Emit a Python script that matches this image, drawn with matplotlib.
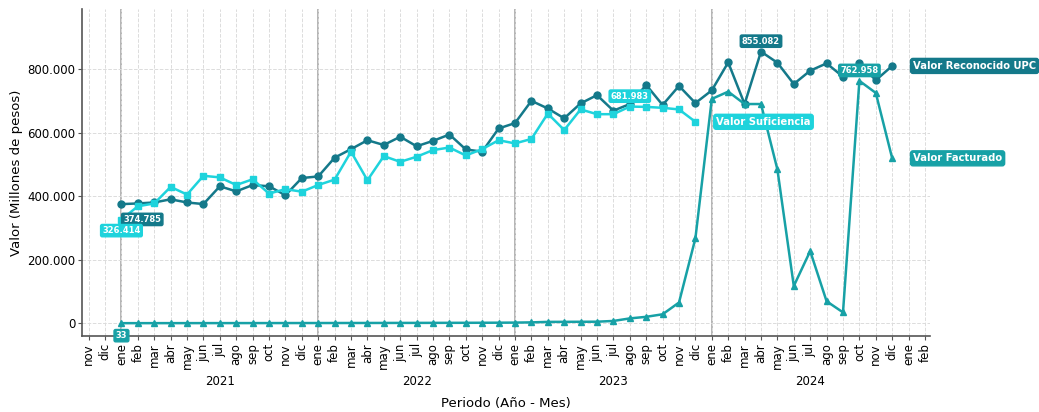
import numpy as np
import matplotlib
matplotlib.use("Agg")
import matplotlib.pyplot as plt
import matplotlib.transforms as mtransforms

# --- data (millones de pesos), ene 2021 .. dic 2024 ---
years = [2021, 2022, 2023, 2024]
month_names = ['ene', 'feb', 'mar', 'abr', 'may', 'jun',
               'jul', 'ago', 'sep', 'oct', 'nov', 'dic']

reconocido = [374785, 377000, 380000, 390000, 380000, 375000, 431000, 415000, 435000, 431000, 403000, 457000,
              462000, 521000, 548000, 576000, 561000, 587000, 557000, 574000, 594000, 547000, 540000, 613000,
              630000, 700000, 676000, 645000, 692000, 718000, 669000, 690000, 750000, 687000, 747000, 693000,
              733000, 821000, 690000, 855082, 820000, 753000, 795000, 818000, 776000, 818000, 765000, 810000]

suficiencia = [326414, 368000, 377000, 429000, 405000, 464000, 459000, 435000, 453000, 408000, 422000, 414000,
               435000, 452000, 540000, 450000, 526000, 508000, 524000, 545000, 553000, 528000, 548000, 576000,
               566000, 580000, 660000, 608000, 673000, 658000, 658000, 681983, 681000, 678000, 673000, 634000,
               None, None, None, None, None, None, None, None, None, None, None, None]

facturado = [33, 60, 90, 120, 150, 180, 210, 250, 280, 320, 360, 400,
             450, 500, 560, 620, 700, 780, 860, 950, 1050, 1150, 1300, 1500,
             1800, 2500, 4000, 4200, 4400, 4600, 7000, 15000, 20000, 28000, 65000, 267000,
             706000, 729000, 690000, 690000, 484000, 117000, 227000, 69000, 34000, 762958, 725000, 519000]

series_names = ['Valor Reconocido UPC', 'Valor Suficiencia', 'Valor Facturado']
colors = ['#14798a', '#1ed3dc', '#17a1a6']
markers = ['o', 's', '^']

# --- helpers ---
def fmt_miles(v):
    return f"{v:,.0f}".replace(',', '.')

x = np.arange(len(reconocido))
data = [np.array(reconocido, dtype=float),
        np.array([np.nan if v is None else v for v in suficiencia], dtype=float),
        np.array(facturado, dtype=float)]

fig = plt.figure(figsize=(10.39, 4.12), dpi=100)
ax = fig.add_axes([0.079, 0.184, 0.816, 0.794])

for y, c, m in zip(data, colors, markers):
    ax.plot(x, y, color=c, marker=m, markersize=5, linewidth=1.8, zorder=3)

# year separators
for k in range(len(years)):
    ax.axvline(12 * k, color='#b4b4b4', linewidth=1.4, zorder=1)

# ticks: nov 2020 .. feb 2025
tick_pos = np.arange(-2, 50)
tick_lab = [month_names[p % 12] for p in tick_pos]
ax.set_xticks(tick_pos)
ax.set_xticklabels(tick_lab, rotation=90, fontsize=8.5)
ax.set_xlim(-2.4, 49.3)

yticks = [0, 200000, 400000, 600000, 800000]
ax.set_ylim(-41000, 989000)
ax.set_yticks(yticks)
ax.set_yticklabels([fmt_miles(v) for v in yticks], fontsize=8.5)

ax.grid(True, linestyle='--', color='#dcdcdc', linewidth=0.7, zorder=0)
ax.spines['top'].set_visible(False)
ax.spines['right'].set_visible(False)
for s in ['left', 'bottom']:
    ax.spines[s].set_color('#555555')
    ax.spines[s].set_linewidth(1.2)
ax.tick_params(axis='both', length=3, color='#555555', pad=2)

# year labels
trans = mtransforms.blended_transform_factory(ax.transData, ax.transAxes)
for k, yr in enumerate(years):
    ax.text(12 * k + 6, -0.14, str(yr), transform=trans, ha='center', va='center', fontsize=8.5)

ax.text(0.5, -0.205, 'Periodo (Año - Mes)', transform=ax.transAxes, ha='center', va='center', fontsize=9.5)
ax.set_ylabel('Valor (Millones de pesos)', fontsize=9.5, labelpad=3)

# value labels: first and max of each series
first_offsets = [(15, -11), (0, -8), (0, -9)]
for y, c, off in zip(data, colors, first_offsets):
    ax.annotate(fmt_miles(y[0]), (x[0], y[0]), xytext=off, textcoords='offset points',
                ha='center', va='center', fontsize=6, fontweight='bold', color='white', zorder=5,
                bbox=dict(boxstyle='round,pad=0.2', fc=c, ec=c))
    i = int(np.nanargmax(y))
    ax.annotate(fmt_miles(y[i]), (x[i], y[i]), xytext=(0, 7.5), textcoords='offset points',
                ha='center', va='center', fontsize=6, fontweight='bold', color='white', zorder=5,
                bbox=dict(boxstyle='round,pad=0.2', fc=c, ec=c))

# series name labels at last point
for y, c, name in zip(data, colors, series_names):
    i = int(np.where(~np.isnan(y))[0][-1])
    ax.annotate(name, (x[i], y[i]), xytext=(15, 0), textcoords='offset points',
                ha='left', va='center', fontsize=7.2, fontweight='bold', color='white', zorder=5,
                annotation_clip=False,
                bbox=dict(boxstyle='round,pad=0.25', fc=c, ec=c))

fig.savefig('out.png', dpi=100)
